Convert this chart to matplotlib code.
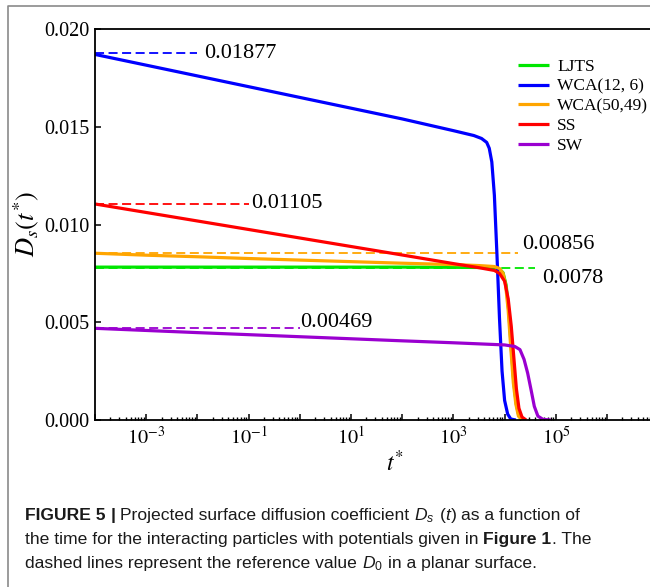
import math
import matplotlib
matplotlib.use("Agg")
import matplotlib.pyplot as plt
from matplotlib.lines import Line2D
from matplotlib.ticker import FixedLocator, FuncFormatter, LogLocator, NullFormatter, FormatStrFormatter

plt.rcParams['font.family'] = ['Liberation Serif', 'DejaVu Serif']
plt.rcParams['mathtext.fontset'] = 'stix'
plt.rcParams['mathtext.rm'] = 'Liberation Sans'
plt.rcParams['mathtext.it'] = 'Liberation Sans:italic'
plt.rcParams['mathtext.bf'] = 'Liberation Sans:bold'

# curves: (t*, Ds)
labels = ["LJTS", "WCA(12, 6)", "WCA(50,49)", "SS", "SW"]
colors = ["#00e600", "#0000ff", "#ffa500", "#ff0000", "#9a00d0"]

t_ljts = [1e-4, 1e-2, 1e0, 1e2, 1e3, 10**3.6, 10**3.8, 10**3.9, 10**3.97, 10**4.03,
          10**4.08, 10**4.13, 10**4.18, 10**4.23, 10**4.28, 10**4.34]
d_ljts = [0.00782, 0.00782, 0.00782, 0.00782, 0.00781, 0.00780, 0.00778, 0.00772, 0.00753, 0.0069,
          0.0056, 0.0037, 0.0019, 0.0008, 0.0002, 0.0]

t_wca126 = [1e-4, 1e-2, 1e0, 1e1, 1e2, 1e3, 10**3.4, 10**3.55, 10**3.65, 10**3.70, 10**3.75,
            10**3.80, 10**3.85, 10**3.90, 10**3.95, 10**4.0, 10**4.06, 10**4.12, 10**4.22]
d_wca126 = [0.01870, 0.01760, 0.01650, 0.01595, 0.01540, 0.01480, 0.01455, 0.01440, 0.01420, 0.0139, 0.0132,
            0.0115, 0.0085, 0.0052, 0.0025, 0.0010, 0.0003, 0.00005, 0.0]

t_wca5049 = [1e-4, 1e-3, 1e-2, 1e-1, 1e0, 1e1, 1e2, 1e3, 10**3.5, 10**3.8, 10**3.9, 10**3.97,
             10**4.02, 10**4.07, 10**4.12, 10**4.17, 10**4.22, 10**4.27, 10**4.35]
d_wca5049 = [0.00853, 0.00843, 0.00835, 0.00826, 0.00818, 0.00810, 0.00802, 0.00795, 0.00790, 0.00785, 0.00775, 0.0075,
             0.0069, 0.0056, 0.0037, 0.0019, 0.0008, 0.0002, 0.0]

t_ss = [1e-4, 1e-2, 1e0, 1e2, 1e3, 10**3.5, 10**3.8, 10**3.9, 10**4.0, 10**4.07, 10**4.13,
        10**4.18, 10**4.23, 10**4.28, 10**4.34, 10**4.42]
d_ss = [0.01105, 0.01018, 0.00931, 0.00844, 0.00800, 0.00779, 0.00765, 0.0075, 0.0071, 0.0062, 0.0048,
        0.0032, 0.0016, 0.0006, 0.00015, 0.0]

t_sw = [1e-4, 1e-2, 1e0, 1e2, 1e3, 1e4, 10**4.2, 10**4.3, 10**4.38, 10**4.45, 10**4.52,
        10**4.58, 10**4.65, 10**4.75, 10**4.9]
d_sw = [0.00469, 0.00447, 0.00426, 0.00405, 0.00395, 0.00384, 0.00376, 0.0036, 0.0031, 0.0024, 0.0015,
        0.0007, 0.0002, 0.00003, 0.0]

# reference values D0 (dashed) and where each dashed line stops
ref_vals = [0.0078, 0.01877, 0.00856, 0.01105, 0.00469]
ref_ends = [4e4, 1e-2, 1.8e4, 1e-1, 1e0]
ref_text = ["0.0078", "0.01877", "0.00856", "0.01105", "0.00469"]
ref_offs = [(5, -8), (5, 0), (3, 6), (2, 0), (0, 4)]   # label offset, points

curves = [(t_ljts, d_ljts), (t_wca126, d_wca126), (t_wca5049, d_wca5049), (t_ss, d_ss), (t_sw, d_sw)]

W, H = 650, 587
fig = plt.figure(figsize=(W / 100, H / 100), dpi=100)
ax = fig.add_axes([95 / W, 1 - 420 / H, 599 / W, 391 / H])

for i in range(5):
    ax.plot([1e-4, ref_ends[i]], [ref_vals[i], ref_vals[i]], color=colors[i], lw=1.3,
            dashes=(5, 2.5))
for i in range(5):
    ax.plot(curves[i][0], curves[i][1], color=colors[i], lw=2.3, label=labels[i],
            solid_capstyle='butt')
for i in range(5):
    ax.annotate(ref_text[i], xy=(ref_ends[i], ref_vals[i]), xytext=ref_offs[i],
                textcoords='offset points', fontsize=16, va='center', ha='left')


def xfmt(v, p):
    k = round(math.log10(v))
    if k % 2 and k < 7:
        return "$10^{%d}$" % k
    return ""


ax.set_xscale('log')
ax.set_xlim(1e-4, 5e7)
ax.set_ylim(0, 0.020)
ax.xaxis.set_major_locator(FixedLocator([10.0 ** k for k in range(-4, 8)]))
ax.xaxis.set_major_formatter(FuncFormatter(xfmt))
ax.xaxis.set_minor_locator(LogLocator(base=10, subs=range(2, 10), numticks=100))
ax.xaxis.set_minor_formatter(NullFormatter())
ax.set_yticks([0, 0.005, 0.010, 0.015, 0.020])
ax.yaxis.set_major_formatter(FormatStrFormatter('%.3f'))
ax.tick_params(which='major', direction='in', length=4.5, width=1.1, labelsize=14.5)
ax.tick_params(which='minor', direction='in', length=2.2, width=1.0)
ax.tick_params(axis='x', pad=5)
ax.tick_params(axis='y', pad=4)
for s in ax.spines.values():
    s.set_linewidth(1.3)

ax.set_xlabel("$t^{*}$", fontsize=17, labelpad=1)
ax.set_ylabel("$D_s(t^{*})$", fontsize=19, labelpad=2)

ax.legend(loc='upper left', bbox_to_anchor=(511 / W, 1 - 52 / H), bbox_transform=fig.transFigure,
          frameon=False, fontsize=12.5, handlelength=1.8, handletextpad=0.45, labelspacing=0.2,
          borderaxespad=0)

# outer frame of the figure panel (cut off on the right)
fig.add_artist(Line2D([8 / W, 8 / W, 1.0], [0, 1 - 6 / H, 1 - 6 / H], color='#8a8a8a', lw=1.2,
                      transform=fig.transFigure))

# caption
fig.canvas.draw()
r = fig.canvas.get_renderer()
cap = dict(family='Liberation Sans', fontsize=12.6, color='#1a1a1a')


def width(s, **kw):
    t = fig.text(0, 0, s, **kw)
    w = t.get_window_extent(r).width
    t.remove()
    return w


space = width("a a", **cap) - width("aa", **cap)

B = dict(fontweight='bold')
I = dict(fontstyle='italic')
N = {}
M = dict(math_fontfamily='custom')
lines = [
    [("FIGURE 5", B, 0), ("|", B, 1), ("Projected surface diffusion coefficient", N, 1), ("$D_s$", M, 1),
     ("(", N, 1), ("t", I, 0), (")", N, 0), ("as a function of", N, 1)],
    [("the time for the interacting particles with potentials given in", N, 0), ("Figure 1", B, 1),
     (". The", N, 0)],
    [("dashed lines represent the reference value", N, 0), ("$D_0$", M, 1), ("in a planar surface.", N, 1)],
]
baselines = [520, 544, 568]
for line, yb in zip(lines, baselines):
    x = 25
    for s, kw, sp in line:
        x += sp * space
        t = fig.text(x / W, 1 - yb / H, s, va='baseline', ha='left', **cap, **kw)
        x += t.get_window_extent(r).width

fig.savefig("out.png", dpi=100)
